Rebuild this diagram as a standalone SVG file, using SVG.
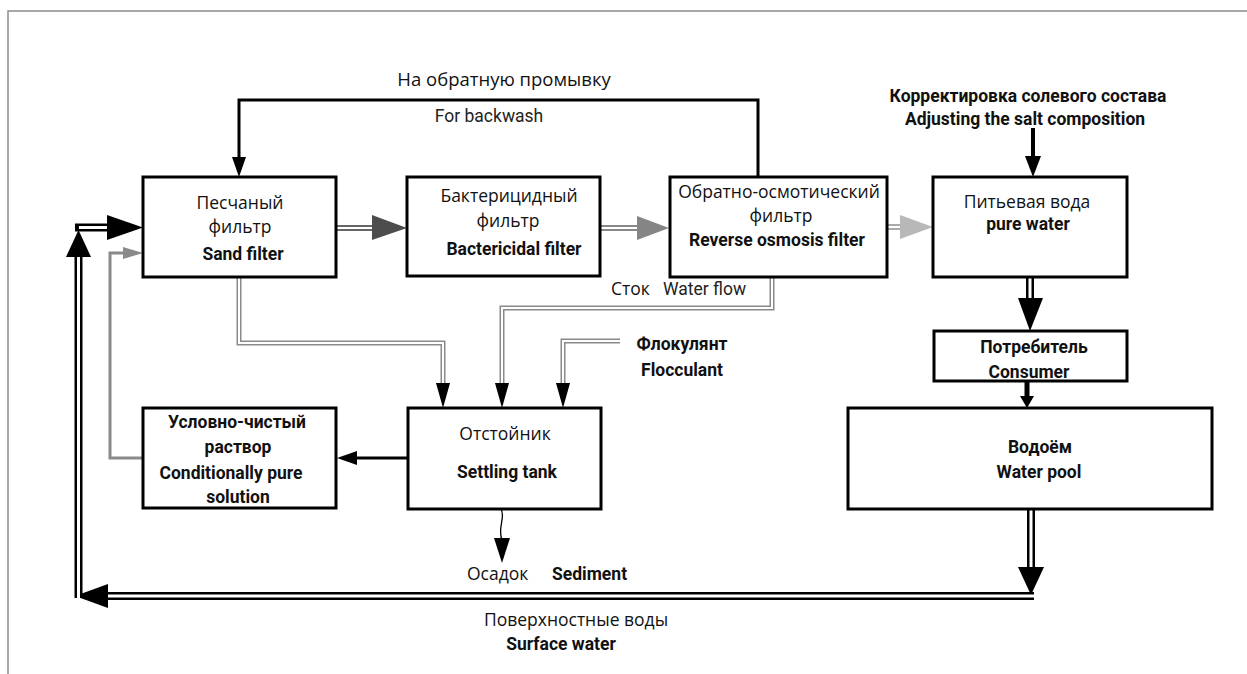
<svg xmlns="http://www.w3.org/2000/svg" width="1247" height="674" viewBox="0 0 1247 674">
<style>
.box{fill:#fff;stroke:#000;stroke-width:3}
.ru{font-family:"Open Sans","Noto Sans",sans-serif;font-size:17.5px;fill:#111}
.ruT{font-family:"Open Sans","Noto Sans",sans-serif;font-size:18.5px;fill:#111}
.b{font-family:Roboto,"Noto Sans",sans-serif;font-weight:bold;font-size:17.5px;fill:#111}
.r{font-family:Roboto,"Noto Sans",sans-serif;font-size:17.5px;fill:#222}
.m{text-anchor:middle}
.blk{fill:none;stroke:#000}
.dblO{fill:none;stroke:#000;stroke-width:8}
.dblI{fill:none;stroke:#fff;stroke-width:3}
.gO{fill:none;stroke:#8a8a8a;stroke-width:5}
.gI{fill:none;stroke:#fff;stroke-width:2}
.ah{fill:#000}
</style>
<path d="M8,674 V11 H1247" fill="none" stroke="#8c8c8c" stroke-width="1.5"/>
<g id="connectors">
  <path class="blk" stroke-width="3" d="M758,177 V100 H239 V158"/>
  <polygon class="ah" points="232,157 246,157 239,177"/>
  <path d="M336,228 H374" fill="none" stroke="#666" stroke-width="6"/>
  <path d="M336,228 H374" class="gI"/>
  <polygon points="372,215 372,240 407,228" fill="#4d4d4d"/>
  <path d="M600,228 H639" fill="none" stroke="#888" stroke-width="6"/>
  <path d="M600,228 H639" class="gI"/>
  <polygon points="637,216 637,240 669,228" fill="#858585"/>
  <path d="M887,227 H902" fill="none" stroke="#aaa" stroke-width="6"/>
  <path d="M887,227 H902" class="gI"/>
  <polygon points="900,215 900,239 933,227" fill="#b8b8b8"/>
  <path class="blk" stroke-width="4" d="M1033,128 V158"/>
  <polygon class="ah" points="1025,156 1041,156 1033,177"/>
  <path class="dblO" d="M1030,277 V300"/>
  <path class="dblI" d="M1030,277 V300"/>
  <polygon class="ah" points="1018,298 1043,298 1030,331"/>
  <path class="blk" stroke-width="5" d="M1027,381 V398"/>
  <polygon class="ah" points="1020,396 1034,396 1027,408"/>
  <path class="dblO" d="M1031,509 V570"/>
  <path class="dblI" d="M1031,509 V570"/>
  <polygon class="ah" points="1018,567 1044,567 1031,595"/>
  <path class="dblO" d="M1034,596 H105"/>
  <path class="dblI" d="M1034,596 H105"/>
  <polygon class="ah" points="108,584 108,608 75,596"/>
  <path class="dblO" d="M78.5,598 V255"/>
  <path class="dblI" d="M78.5,598 V255"/>
  <polygon class="ah" points="66,257 91,257 78.5,230"/>
  <path class="dblO" d="M75,227.5 H110"/>
  <path class="dblI" d="M79,227.5 H110"/>
  <polygon class="ah" points="107,215 107,240 143,227.5"/>
  <path class="gO" d="M239,277 V343 H443 V385"/>
  <path class="gI" d="M239,277 V343 H443 V385"/>
  <polygon class="ah" points="436,383 450,383 443,408"/>
  <path class="gO" d="M772,277 V308 H502 V385"/>
  <path class="gI" d="M772,277 V308 H502 V385"/>
  <polygon class="ah" points="495,383 509,383 502,408"/>
  <path class="gO" d="M620,341 H563 V385"/>
  <path class="gI" d="M620,341 H563 V385"/>
  <polygon class="ah" points="556,383 570,383 563,408"/>
  <path class="blk" stroke-width="3" d="M408,458 H352"/>
  <polygon class="ah" points="357,451 357,465 337,458"/>
  <path d="M143,458 H110 V253 H125" fill="none" stroke="#8a8a8a" stroke-width="3"/>
  <polygon points="123,247 123,259 143,253" fill="#8a8a8a"/>
  <path class="blk" stroke-width="1.3" d="M501,509 C506,518 497,527 502,540"/>
  <polygon class="ah" points="494,538 510,538 502,563"/>
</g>
<g id="labels">
  <text class="ruT m" x="504" y="86">На обратную промывку</text>
  <text class="r m" x="489" y="122">For backwash</text>
  <text class="b m" x="1028" y="102">Корректировка солевого состава</text>
  <text class="b m" x="1025" y="125">Adjusting the salt composition</text>
  <text class="ru" x="611" y="295">Сток</text>
  <text class="r" x="663" y="295">Water flow</text>
  <text class="b m" x="682" y="350">Флокулянт</text>
  <text class="b m" x="682" y="376">Flocculant</text>
  <text class="ru" x="467" y="580">Осадок</text>
  <text class="b" x="552" y="580">Sediment</text>
  <text class="ru m" x="576" y="626">Поверхностные воды</text>
  <text class="b m" x="561" y="650">Surface water</text>
</g>
<g id="sand-filter">
  <rect class="box" x="143" y="177" width="193" height="100"/>
  <text class="ru m" x="240" y="209">Песчаный</text>
  <text class="ru m" x="240" y="233">фильтр</text>
  <text class="b m" x="243" y="260">Sand filter</text>
</g>
<g id="bactericidal-filter">
  <rect class="box" x="407" y="177" width="193" height="99"/>
  <text class="ru m" x="509" y="202">Бактерицидный</text>
  <text class="ru m" x="508" y="227">фильтр</text>
  <text class="b m" x="514" y="255">Bactericidal filter</text>
</g>
<g id="ro-filter">
  <rect class="box" x="670" y="177" width="217" height="100"/>
  <text class="ru m" x="779" y="198">Обратно-осмотический</text>
  <text class="ru m" x="781" y="222">фильтр</text>
  <text class="b m" x="777" y="246">Reverse osmosis filter</text>
</g>
<g id="pure-water">
  <rect class="box" x="933" y="177" width="194" height="100"/>
  <text class="ru m" x="1027" y="208">Питьевая вода</text>
  <text class="b m" x="1028" y="230">pure water</text>
</g>
<g id="consumer">
  <rect class="box" x="934" y="331" width="193" height="50"/>
  <text class="b m" x="1034" y="353">Потребитель</text>
  <text class="b m" x="1029" y="378">Consumer</text>
</g>
<g id="water-pool">
  <rect class="box" x="848" y="408" width="364" height="101"/>
  <text class="b m" x="1040" y="453">Водоём</text>
  <text class="b m" x="1039" y="478">Water pool</text>
</g>
<g id="conditionally-pure">
  <rect class="box" x="143" y="408" width="193" height="100"/>
  <text class="b m" x="237" y="428">Условно-чистый</text>
  <text class="b m" x="238" y="453">раствор</text>
  <text class="b m" x="231" y="479">Conditionally pure</text>
  <text class="b m" x="238" y="503">solution</text>
</g>
<g id="settling-tank">
  <rect class="box" x="408" y="408" width="193" height="101"/>
  <text class="ru m" x="505" y="440">Отстойник</text>
  <text class="b m" x="507" y="478">Settling tank</text>
</g>
</svg>
